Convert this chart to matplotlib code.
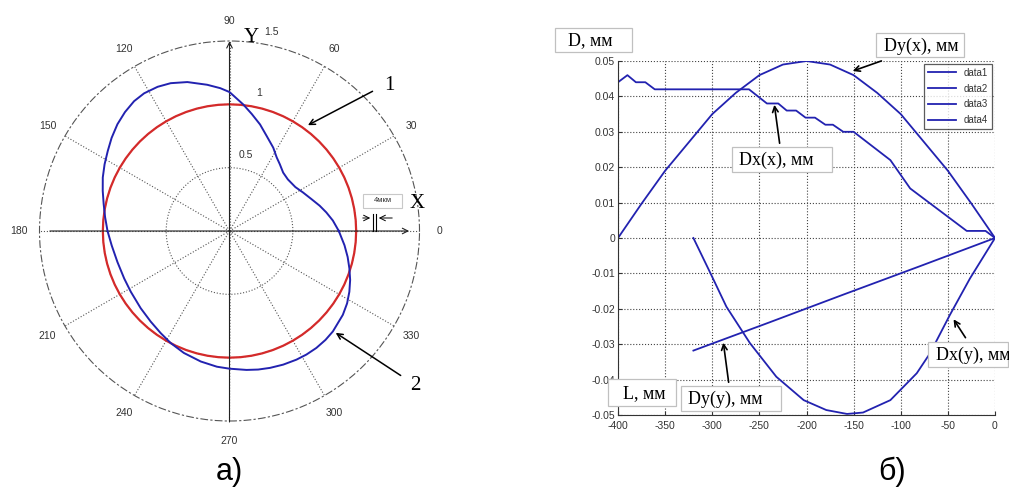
import matplotlib
matplotlib.use('Agg')
import matplotlib.pyplot as plt
from matplotlib.lines import Line2D
from matplotlib.patches import Rectangle
import numpy as np

W, H = 1009, 492

# --- данные: полярная диаграмма (а) ---
blue_theta_deg = [0, 5.8, 10.9, 15.7, 21.3, 27.7, 33.7, 41.5, 47.4, 53, 57.3, 62.3, 68.6, 74,
                  79.2, 83.8, 90, 93.7, 98.7, 105.8, 111.7, 116.5, 121.8, 126.3, 131.3, 136.4,
                  141.7, 146.7, 151.9, 157.1, 162.4, 167.9, 173.7, 180, 187, 195.5, 204.3, 211.6,
                  221, 229, 236, 242.3, 249.5, 257.6, 264.7, 270, 277, 281.7, 286.5, 291.9,
                  297.5, 301.9, 306.6, 311.4, 315.8, 323.5, 328.4, 333.1, 337.9, 342.6, 347.6,
                  352.9, 360]
blue_r = [0.863, 0.82, 0.778, 0.739, 0.694, 0.655, 0.625, 0.615, 0.626, 0.66, 0.69, 0.743, 0.805,
          0.875, 0.94, 1.005, 1.097, 1.13, 1.168, 1.222, 1.256, 1.272, 1.279, 1.272, 1.25, 1.222,
          1.186, 1.15, 1.118, 1.086, 1.05, 1.016, 0.988, 0.963, 0.937, 0.918, 0.912, 0.915,
          0.929, 0.948, 0.972, 0.999, 1.028, 1.055, 1.076, 1.087, 1.105, 1.117, 1.127, 1.137,
          1.145, 1.149, 1.15, 1.146, 1.138, 1.113, 1.09, 1.061, 1.028, 0.992, 0.955, 0.915,
          0.863]
red_theta_deg = list(range(0, 361, 5))
red_r = [1.0] * len(red_theta_deg)
angle_ticks = list(range(0, 360, 30))
angle_labels = [str(a) for a in angle_ticks]
r_ticks = [0.5, 1.0, 1.5]
r_labels = ['0.5', '1', '1.5']

# --- данные: графики отклонений (б) ---
dyx_x = [-400, -375, -350, -325, -300, -275, -250, -225, -200, -175, -150, -125, -100, -75, -50, -25, 0]
dyx_y = [0, 0.0097, 0.019, 0.027, 0.035, 0.041, 0.046, 0.049, 0.050, 0.049, 0.046, 0.041, 0.035,
         0.027, 0.019, 0.0097, 0]
dxx_x = [-400, -390, -381, -371, -361, -261, -242, -230, -221, -211, -201, -191, -180, -172, -161,
         -150, -111, -90, -30, -10, 0]
dxx_y = [0.044, 0.046, 0.044, 0.044, 0.042, 0.042, 0.038, 0.038, 0.036, 0.036, 0.034, 0.034, 0.032,
         0.032, 0.030, 0.030, 0.022, 0.014, 0.002, 0.002, 0]
dxy_x = [-320, -302, -285, -260, -232, -203, -179, -157, -140, -111, -83, -69, -48, -26.5, 0]
dxy_y = [0, -0.0099, -0.0194, -0.0297, -0.0392, -0.0458, -0.0486, -0.0497, -0.0493, -0.0458,
         -0.0382, -0.0326, -0.0218, -0.0114, 0]
dyy_x = [-320, -240, -160, -80, 0]
dyy_y = [-0.0318, -0.0239, -0.0159, -0.008, 0]
x_ticks = list(range(-400, 1, 50))
y_ticks = [-0.05, -0.04, -0.03, -0.02, -0.01, 0, 0.01, 0.02, 0.03, 0.04, 0.05]
y_labels = ['-0.05', '-0.04', '-0.03', '-0.02', '-0.01', '0', '0.01', '0.02', '0.03', '0.04', '0.05']

BLUE = '#2222b0'
RED = '#d42a2a'
SANS = 'Liberation Sans'
SERIF = 'Liberation Serif'


def fx(px):
    return px / W


def fy(py):
    return 1 - py / H


fig = plt.figure(figsize=(W / 100, H / 100), dpi=100)

# ---------------- (а) полярная ----------------
ax1 = fig.add_axes([fx(39.5), fy(421), 380 / W, 380 / H], projection='polar')
ax1.plot(np.radians(red_theta_deg), red_r, color=RED, lw=1.6, zorder=3)
ax1.plot(np.radians(blue_theta_deg), blue_r, color=BLUE, lw=1.4, zorder=4)
ax1.set_rlim(0, 1.5)
ax1.set_xticks(np.radians(angle_ticks))
ax1.set_xticklabels([])
ax1.set_yticks([0.5, 1.0])
ax1.set_yticklabels([])
ax1.grid(True, linestyle=':', color='#555555', lw=0.8)
ax1.spines['polar'].set_linestyle((0, (6, 3, 1, 3)))
ax1.spines['polar'].set_color('#555555')
ax1.spines['polar'].set_linewidth(0.8)
ax1.tick_params(length=0)

for a, lab in zip(angle_ticks, angle_labels):
    ax1.text(np.radians(a), 1.66, lab, ha='center', va='center', fontsize=7.5,
             family=SANS, color='#333333')
for r, lab in zip(r_ticks, r_labels):
    ax1.text(np.radians(78), r + 0.11, lab, ha='center', va='center', fontsize=7.5,
             family=SANS, color='#333333')

# оси X и Y со стрелками
ax1.annotate('', xy=(0, 1.44), xytext=(np.pi, 1.44),
             arrowprops=dict(arrowstyle='->', color='#222222', lw=0.8), annotation_clip=False)
ax1.annotate('', xy=(np.pi / 2, 1.52), xytext=(3 * np.pi / 2, 1.53),
             arrowprops=dict(arrowstyle='->', color='#222222', lw=0.8), annotation_clip=False)
fig.text(fx(417), fy(204), 'X', fontsize=15, family=SERIF, ha='center', va='center')
fig.text(fx(251), fy(37), 'Y', fontsize=15, family=SERIF, ha='center', va='center')

# выноски 1 и 2
ax1.annotate('', xy=(np.radians(54), 1.02), xytext=(fx(375), fy(90)),
             textcoords='figure fraction',
             arrowprops=dict(arrowstyle='->', color='black', lw=1.1))
fig.text(fx(389), fy(86), '1', fontsize=15, family=SERIF, ha='center', va='center')
ax1.annotate('', xy=(np.radians(316), 1.14), xytext=(fx(403), fy(377)),
             textcoords='figure fraction',
             arrowprops=dict(arrowstyle='->', color='black', lw=1.1))
fig.text(fx(415), fy(385), '2', fontsize=15, family=SERIF, ha='center', va='center')

# масштаб 4мкм
fig.patches.append(Rectangle((fx(363), fy(208)), 39 / W, 14 / H, transform=fig.transFigure,
                             facecolor='white', edgecolor='#c8c8c8', lw=0.8))
fig.text(fx(383), fy(201), '4мкм', fontsize=5.5, family=SANS, ha='center', va='center',
         color='#333333')
fig.add_artist(Line2D([fx(373), fx(373)], [fy(214), fy(231)], color='black', lw=0.8))
fig.add_artist(Line2D([fx(376), fx(376)], [fy(214), fy(231)], color='black', lw=0.8))
ax1.annotate('', xy=(fx(373), fy(218)), xytext=(fx(360), fy(218)), xycoords='figure fraction',
             arrowprops=dict(arrowstyle='->', color='black', lw=0.7), annotation_clip=False)
ax1.annotate('', xy=(fx(376), fy(218)), xytext=(fx(395), fy(218)), xycoords='figure fraction',
             arrowprops=dict(arrowstyle='->', color='black', lw=0.7), annotation_clip=False)

fig.text(fx(229), fy(472), 'а)', fontsize=22, family=SANS, ha='center', va='center')

# ---------------- (б) графики ----------------
ax2 = fig.add_axes([fx(618), fy(415), 377 / W, 354 / H])
l1, = ax2.plot(dyx_x, dyx_y, color=BLUE, lw=1.3)
l2, = ax2.plot(dxx_x, dxx_y, color=BLUE, lw=1.3)
l3, = ax2.plot(dxy_x, dxy_y, color=BLUE, lw=1.3)
l4, = ax2.plot(dyy_x, dyy_y, color=BLUE, lw=1.3)
ax2.set_xlim(-400, 0)
ax2.set_ylim(-0.05, 0.05)
ax2.set_xticks(x_ticks)
ax2.set_xticklabels([str(v) for v in x_ticks])
ax2.set_yticks(y_ticks)
ax2.set_yticklabels(y_labels)
ax2.grid(True, linestyle=':', color='#444444', lw=0.8)
for s in ('top', 'right'):
    ax2.spines[s].set_visible(False)
for s in ('left', 'bottom'):
    ax2.spines[s].set_color('#333333')
ax2.tick_params(direction='in', length=3, labelsize=7.5, colors='#333333', pad=2)
ax2.tick_params(axis='x', pad=4)
for lab in ax2.get_xticklabels() + ax2.get_yticklabels():
    lab.set_family(SANS)
leg = ax2.legend([l1, l2, l3, l4], ['data1', 'data2', 'data3', 'data4'], loc='upper right',
                 fontsize=7, frameon=True, fancybox=False, edgecolor='#333333',
                 handlelength=2.9, labelspacing=0.6, borderaxespad=0.3, borderpad=0.4)
leg.get_frame().set_linewidth(0.9)
for t in leg.get_texts():
    t.set_color('#333333')
    t.set_family(SANS)


def label_box(x0, y0, x1, y1, text, dx):
    fig.patches.append(Rectangle((fx(x0), fy(y1)), (x1 - x0) / W, (y1 - y0) / H,
                                 transform=fig.transFigure, facecolor='white',
                                 edgecolor='#c0c0c0', lw=0.9, zorder=5))
    fig.text(fx(x0 + dx), fy((y0 + y1) / 2 + 1), text, fontsize=13, family=SERIF,
             ha='left', va='center', zorder=6)


label_box(555, 28, 632, 52, 'D, мм', 13)
label_box(876, 33, 964, 57, 'Dy(x), мм', 8)
label_box(732, 147, 832, 172, 'Dx(x), мм', 7)
label_box(928, 342, 1008, 367, 'Dx(y), мм', 8)
label_box(681, 386, 781, 411, 'Dy(y), мм', 7)
label_box(608, 379, 676, 406, 'L, мм', 15)

arrow = dict(arrowstyle='->', color='black', lw=1.2)
ax2.annotate('', xy=(-153.8, 0.0469), xytext=(fx(884), fy(60)), textcoords='figure fraction',
             arrowprops=arrow)
ax2.annotate('', xy=(-234.5, 0.0384), xytext=(fx(780), fy(146)), textcoords='figure fraction',
             arrowprops=arrow)
ax2.annotate('', xy=(-45.6, -0.0223), xytext=(fx(967), fy(340)), textcoords='figure fraction',
             arrowprops=arrow)
ax2.annotate('', xy=(-288.6, -0.0288), xytext=(fx(729), fy(385)), textcoords='figure fraction',
             arrowprops=arrow)

fig.text(fx(892), fy(472), 'б)', fontsize=22, family=SANS, ha='center', va='center')

fig.savefig('out.png', dpi=100)
plt.close(fig)
